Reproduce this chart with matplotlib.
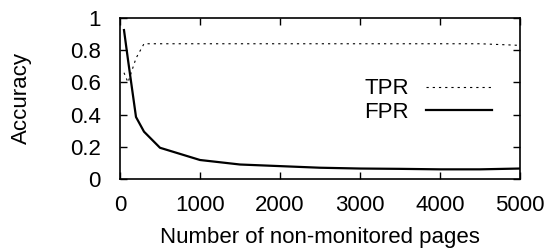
import matplotlib
matplotlib.use("Agg")
import matplotlib.pyplot as plt

pages = [50, 100, 200, 300, 500, 1000, 1500, 2000, 2500, 3000, 3500, 4000, 4500, 5000]
tpr = [0.66, 0.60, 0.75, 0.84, 0.84, 0.84, 0.84, 0.84, 0.84, 0.84, 0.84, 0.84, 0.84, 0.83]
fpr = [0.925, 0.74, 0.385, 0.294, 0.194, 0.118, 0.09, 0.08, 0.07, 0.065, 0.063, 0.06, 0.06, 0.065]

plt.rcParams['font.family'] = ['Liberation Sans', 'DejaVu Sans']
plt.rcParams['font.size'] = 16

fig = plt.figure(figsize=(5.51, 2.5), dpi=100)
ax = fig.add_axes([120/551, 1-179/250, (520-120)/551, (179-18)/250])
ax.plot(pages, tpr, color='black', linestyle=(0, (2, 3.6)), linewidth=0.8, label='TPR')
ax.plot(pages, fpr, color='black', linestyle='-', linewidth=1.6, label='FPR')
ax.set_xlim(0, 5000)
ax.set_ylim(0, 1)
ax.set_xticks([0, 1000, 2000, 3000, 4000, 5000])
ax.set_yticks([0, 0.2, 0.4, 0.6, 0.8, 1])
ax.set_yticklabels(['0', '0.2', '0.4', '0.6', '0.8', '1'])
ax.tick_params(axis='both', direction='in', top=True, right=True, length=5, width=1)
ax.tick_params(axis='x', pad=11.5)
ax.tick_params(axis='y', pad=14)
for s in ax.spines.values():
    s.set_linewidth(1.2)
ax.set_xlabel('Number of non-monitored pages', labelpad=8)
ax.set_ylabel('Accuracy', labelpad=27)
ax.legend(loc='upper right', bbox_to_anchor=(0.952, 0.68), frameon=False, markerfirst=False,
          handlelength=2.95, handletextpad=0.77, labelspacing=0.1, borderaxespad=0)
fig.savefig('out.png', dpi=100)
